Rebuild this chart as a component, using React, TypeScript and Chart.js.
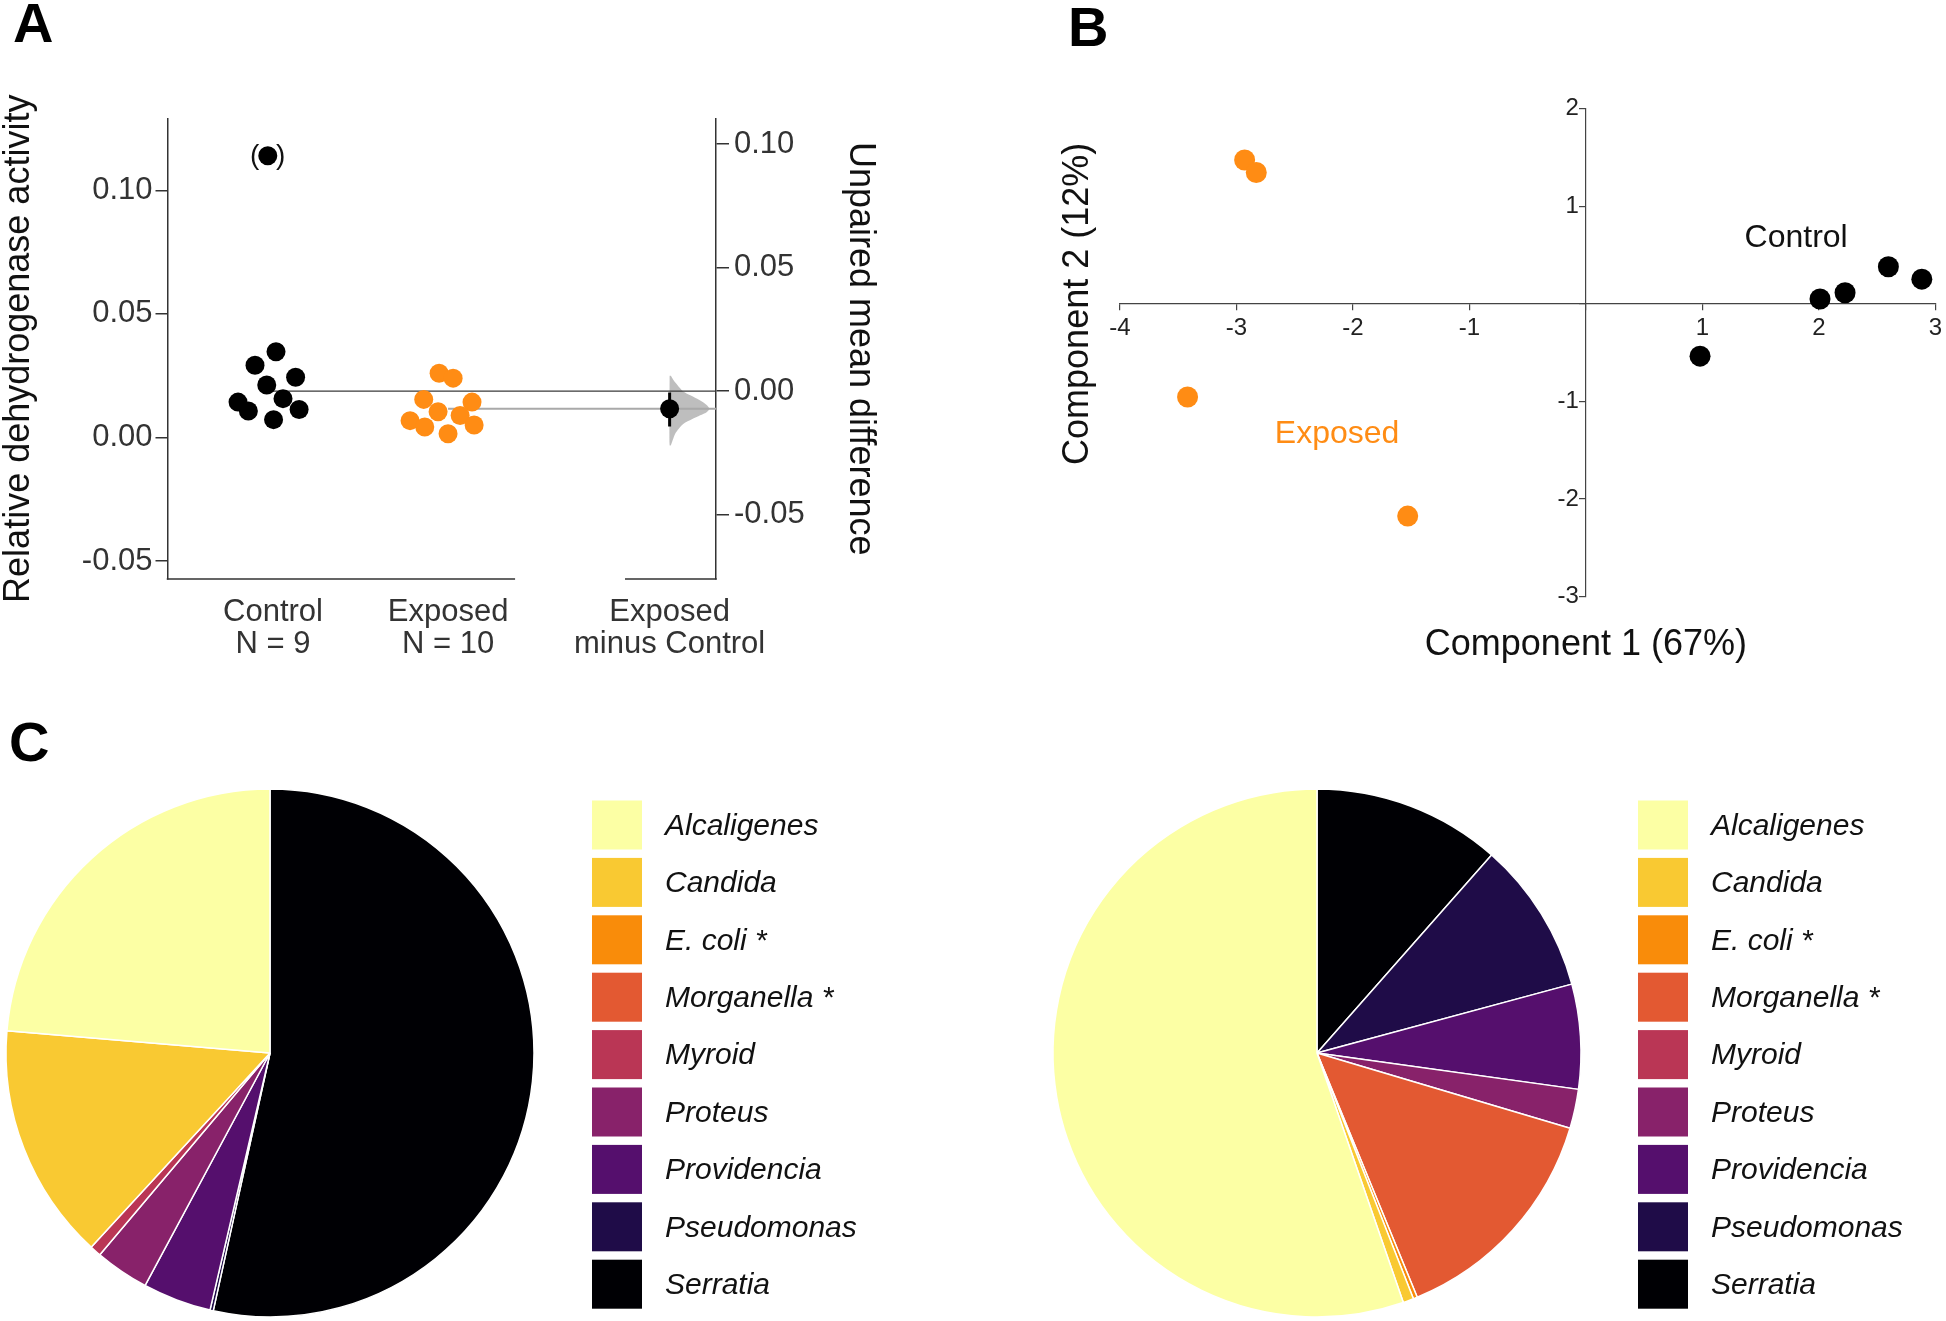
import React, { useEffect, useRef } from 'react';
import { Chart, registerables } from 'chart.js';

Chart.register(...registerables);

const FONT = '"Liberation Sans", Arial, Helvetica, sans-serif';
Chart.defaults.font.family = FONT;

const ORANGE = '#FF8C14';
const TICK = '#333333';
const INK = '#111111';

// ---------------- Panel A : estimation plot ----------------
const controlValues = [0.0347, 0.0292, 0.0244, 0.0212, 0.0157, 0.0143, 0.0113, 0.0107, 0.0072];
const controlJitter = [0.017, -0.103, 0.129, -0.036, 0.057, -0.2, 0.149, -0.141, 0.003];
const controlOutlier = 0.114;
const controlOutlierJitter = -0.03;
const exposedValues = [0.026, 0.024, 0.0154, 0.0143, 0.0104, 0.0089, 0.0068, 0.005, 0.0042, 0.0015];
const exposedJitter = [-0.051, 0.029, -0.139, 0.137, -0.057, 0.069, -0.217, 0.149, -0.133, 0];
const contrastCI = [-0.0143, -0.0006];
const bootValues = [0.0062, 0.0044, 0.0024, 0.0, -0.0017, -0.0037, -0.0057, -0.0071, -0.0084, -0.0098, -0.0114, -0.0132, -0.0152, -0.0172, -0.0199, -0.0219];
const bootDensity = [0.03, 0.1, 0.2, 0.335, 0.52, 0.76, 0.94, 1.0, 0.94, 0.77, 0.56, 0.35, 0.23, 0.14, 0.076, 0.03];
const leftRange = [-0.0573, 0.1291];

// ---------------- Panel B : PCA ----------------
const pcaExposedX = [-2.93, -2.83, -3.42, -1.53];
const pcaExposedY = [1.474, 1.346, -0.955, -2.175];
const pcaControlX = [0.98, 2.01, 2.225, 2.597, 2.884];
const pcaControlY = [-0.536, 0.05, 0.114, 0.38, 0.253];
const pcaXRange = [-4, 3];
const pcaYRange = [-3, 2];

// ---------------- Panel C : composition pies ----------------
const genera = ['Alcaligenes', 'Candida', 'E. coli *', 'Morganella *', 'Myroid', 'Proteus', 'Providencia', 'Pseudomonas', 'Serratia'];
const generaColors = ['#FCFFA4', '#F9C932', '#F98C0A', '#E35932', '#BA3655', '#88226A', '#550F6D', '#1F0C48', '#000004'];
const leftPieShares = [23.65, 14.5, 0, 0, 0.7, 3.3, 4.2, 0.2, 53.45];
const rightPieShares = [55.3, 0.65, 0.25, 14.2, 0, 2.4, 6.4, 9.3, 11.5];

const mean = (a: number[]) => a.reduce((s, v) => s + v, 0) / a.length;
const fmt2 = (v: number) => (Math.abs(v) < 1e-9 ? 0 : v).toFixed(2);

// x layout of the estimation plot (group units)
const xControl = 1;
const xExposed = 2;
const xContrast = 3.266;
const xMin = 0.397;
const xMax = 3.531;
const rawAxisEnd = 2.383;
const contrastAxisStart = 3.011;
const violinHalfWidth = 0.227;

function buildPanelA(canvas: HTMLCanvasElement) {
  const cMean = mean(controlValues);
  const eMean = mean(exposedValues);
  const diff = eMean - cMean;
  const xLabels = [
    ['Control', `N = ${controlValues.length}`],
    ['Exposed', `N = ${exposedValues.length}`],
    ['Exposed', 'minus Control'],
  ];
  const violin = [
    { x: xContrast, y: bootValues[0] },
    ...bootValues.map((v, i) => ({ x: xContrast + bootDensity[i] * violinHalfWidth, y: v })),
    { x: xContrast, y: bootValues[bootValues.length - 1] },
    { x: xContrast, y: bootValues[0] },
  ];

  const annot = {
    id: 'annotA',
    afterDatasetsDraw(chart: any) {
      const { ctx, chartArea } = chart;
      const xs = chart.scales.x;
      const ys = chart.scales.y;
      ctx.save();
      ctx.strokeStyle = '#333';
      ctx.lineWidth = 1.5;
      ctx.beginPath();
      ctx.moveTo(xs.getPixelForValue(xMin) - 0.75, chartArea.bottom);
      ctx.lineTo(xs.getPixelForValue(rawAxisEnd), chartArea.bottom);
      ctx.moveTo(xs.getPixelForValue(contrastAxisStart), chartArea.bottom);
      ctx.lineTo(xs.getPixelForValue(xMax) + 0.75, chartArea.bottom);
      ctx.stroke();
      const px = xs.getPixelForValue(xControl + controlOutlierJitter);
      const py = ys.getPixelForValue(controlOutlier);
      ctx.fillStyle = INK;
      ctx.font = `28px ${FONT}`;
      ctx.textAlign = 'center';
      ctx.textBaseline = 'middle';
      ctx.fillText('(', px - 13, py);
      ctx.fillText(')', px + 13, py);
      ctx.restore();
    },
  };

  return new Chart(canvas, {
    type: 'scatter',
    data: {
      datasets: [
        { type: 'scatter', data: [{ x: xContrast, y: diff }], yAxisID: 'y2', pointRadius: 9.5, backgroundColor: '#000', borderWidth: 0, showLine: false } as any,
        { type: 'line', data: [{ x: xContrast, y: contrastCI[1] }, { x: xContrast, y: contrastCI[0] }], yAxisID: 'y2', borderColor: '#000', borderWidth: 3, pointRadius: 0, showLine: true },
        {
          type: 'scatter',
          data: [
            ...controlValues.map((v, i) => ({ x: xControl + controlJitter[i], y: v })),
            { x: xControl + controlOutlierJitter, y: controlOutlier },
          ],
          yAxisID: 'y', pointRadius: 9.5, backgroundColor: '#000', borderWidth: 0, showLine: false,
        } as any,
        {
          type: 'scatter',
          data: exposedValues.map((v, i) => ({ x: xExposed + exposedJitter[i], y: v })),
          yAxisID: 'y', pointRadius: 9.5, backgroundColor: ORANGE, borderWidth: 0, showLine: false,
        } as any,
        { type: 'line', data: [{ x: xExposed, y: eMean }, { x: xMax, y: eMean }], yAxisID: 'y', borderColor: '#a9a9a9', borderWidth: 2, pointRadius: 0, showLine: true },
        { type: 'line', data: [{ x: xControl, y: cMean }, { x: xMax, y: cMean }], yAxisID: 'y', borderColor: '#3a3a3a', borderWidth: 1.3, pointRadius: 0, showLine: true },
        { type: 'line', data: violin, yAxisID: 'y2', borderColor: 'rgba(0,0,0,0)', borderWidth: 0, backgroundColor: 'rgba(150,150,150,0.62)', fill: 'shape', pointRadius: 0, showLine: true, tension: 0.25 } as any,
      ],
    },
    options: {
      responsive: false,
      animation: false,
      devicePixelRatio: 1,
      events: [],
      layout: { padding: { left: 0, top: 118.5, right: 0, bottom: 0 } },
      plugins: { legend: { display: false }, tooltip: { enabled: false } },
      scales: {
        x: {
          type: 'linear',
          min: xMin,
          max: xMax,
          afterFit: (s: any) => { s.height = 121; },
          afterBuildTicks: (s: any) => { s.ticks = [xControl, xExposed, xContrast].map((v) => ({ value: v })); },
          ticks: {
            callback: (_v: any, i: number) => xLabels[i],
            font: { size: 31, lineHeight: 1.035 },
            color: TICK,
            padding: 17,
            autoSkip: false,
            maxRotation: 0,
            minRotation: 0,
          },
          grid: { display: false, drawTicks: false },
          border: { display: false },
        },
        y: {
          type: 'linear',
          position: 'left',
          min: leftRange[0],
          max: leftRange[1],
          afterFit: (s: any) => { s.width = 167.5; },
          ticks: { stepSize: 0.05, includeBounds: false, callback: (v: any) => fmt2(Number(v)), font: { size: 31 }, color: TICK, padding: 3 },
          grid: { drawOnChartArea: false, tickLength: 12, color: '#333', lineWidth: 1.5 },
          border: { color: '#333', width: 1.5 },
          title: { display: true, text: 'Relative dehydrogenase activity', font: { size: 36, lineHeight: 1 }, padding: { top: 1, bottom: 0 }, color: INK },
        },
        y2: {
          type: 'linear',
          position: 'right',
          min: leftRange[0] - cMean,
          max: leftRange[1] - cMean,
          afterFit: (s: any) => { s.width = 184; },
          ticks: { stepSize: 0.05, includeBounds: false, callback: (v: any) => fmt2(Number(v)), font: { size: 31 }, color: TICK, padding: 5 },
          grid: { drawOnChartArea: false, tickLength: 13, color: '#333', lineWidth: 1.5 },
          border: { color: '#333', width: 1.5 },
          title: { display: true, text: 'Unpaired mean difference', font: { size: 36, lineHeight: 1 }, padding: { top: 22, bottom: 0 }, color: INK },
        },
      },
    } as any,
    plugins: [annot],
  });
}

function buildPanelB(canvas: HTMLCanvasElement) {
  const controlLabelAt = [1.805, 0.673];
  const exposedLabelAt = [-2.136, -1.335];
  const annot = {
    id: 'annotB',
    afterDraw(chart: any) {
      const { ctx, chartArea } = chart;
      const xs = chart.scales.x;
      const ys = chart.scales.y;
      ctx.save();
      // y tick labels, to the left of the centred axis
      ctx.font = `24px ${FONT}`;
      ctx.fillStyle = '#222';
      ctx.textAlign = 'right';
      ctx.textBaseline = 'middle';
      const axisX = xs.getPixelForValue(0);
      ys.ticks.forEach((t: any) => {
        if (t.value !== 0) ctx.fillText(String(t.value), axisX - 7, ys.getPixelForValue(t.value));
      });
      ctx.textAlign = 'center';
      ctx.font = `32px ${FONT}`;
      ctx.fillStyle = INK;
      ctx.fillText('Control', xs.getPixelForValue(controlLabelAt[0]), ys.getPixelForValue(controlLabelAt[1]));
      ctx.fillStyle = ORANGE;
      ctx.fillText('Exposed', xs.getPixelForValue(exposedLabelAt[0]), ys.getPixelForValue(exposedLabelAt[1]));
      ctx.fillStyle = INK;
      ctx.font = `36px ${FONT}`;
      ctx.fillText('Component 1 (67%)', xs.getPixelForValue(0), chartArea.bottom + 48);
      ctx.translate(chartArea.left - 42, ys.getPixelForValue(0));
      ctx.rotate(-Math.PI / 2);
      ctx.fillText('Component 2 (12%)', 0, 0);
      ctx.restore();
    },
  };
  const gridOpts = { drawOnChartArea: false, tickLength: 6, color: '#444', lineWidth: 1.2 };
  const borderOpts = { color: '#444', width: 1.2 };
  return new Chart(canvas, {
    type: 'scatter',
    data: {
      datasets: [
        { data: pcaControlX.map((x, i) => ({ x, y: pcaControlY[i] })), pointRadius: 10.5, backgroundColor: '#000', borderWidth: 0 },
        { data: pcaExposedX.map((x, i) => ({ x, y: pcaExposedY[i] })), pointRadius: 10.5, backgroundColor: ORANGE, borderWidth: 0 },
      ],
    },
    options: {
      responsive: false,
      animation: false,
      devicePixelRatio: 1,
      events: [],
      layout: { padding: { left: 80, right: 10, top: 108.7, bottom: 103.4 } },
      plugins: { legend: { display: false }, tooltip: { enabled: false } },
      scales: {
        x: {
          type: 'linear', min: pcaXRange[0], max: pcaXRange[1], position: { y: 0 },
          ticks: { stepSize: 1, callback: (v: any) => (Number(v) === 0 ? '' : String(v)), font: { size: 24 }, color: '#222', autoSkip: false, maxRotation: 0, padding: 4 },
          grid: gridOpts, border: borderOpts,
        },
        y: {
          type: 'linear', min: pcaYRange[0], max: pcaYRange[1], position: { x: 0 },
          ticks: { stepSize: 1, callback: () => '', font: { size: 24 }, autoSkip: false },
          grid: gridOpts, border: borderOpts,
        },
      },
    } as any,
    plugins: [annot],
  });
}

function buildPie(canvas: HTMLCanvasElement, shares: number[], padding: any, legendOffset: number) {
  const legend = {
    id: 'pieLegend',
    afterDraw(chart: any) {
      const { ctx, chartArea } = chart;
      const cx = (chartArea.left + chartArea.right) / 2;
      const sx = cx + legendOffset;
      ctx.save();
      ctx.textAlign = 'left';
      ctx.textBaseline = 'middle';
      ctx.font = `italic 30px ${FONT}`;
      genera.forEach((g, i) => {
        const y0 = 20.5 + i * 57.4;
        ctx.fillStyle = generaColors[i];
        ctx.fillRect(sx, y0, 50, 49);
        ctx.fillStyle = INK;
        ctx.fillText(g, sx + 73, y0 + 26);
      });
      ctx.restore();
    },
  };
  return new Chart(canvas, {
    type: 'pie',
    data: {
      labels: [...genera].reverse(),
      datasets: [{
        data: [...shares].reverse(),
        backgroundColor: [...generaColors].reverse(),
        borderColor: '#ffffff',
        borderWidth: 1.5,
      }],
    },
    options: {
      responsive: false,
      animation: false,
      devicePixelRatio: 1,
      events: [],
      radius: 264,
      layout: { padding },
      plugins: { legend: { display: false }, tooltip: { enabled: false } },
    } as any,
    plugins: [legend],
  });
}

const letterStyle = (left: number, top: number): React.CSSProperties => ({
  position: 'absolute',
  left,
  top,
  fontFamily: FONT,
  fontWeight: 'bold',
  fontSize: 56,
  lineHeight: '56px',
  color: '#000',
});

export default function App() {
  const aRef = useRef<HTMLCanvasElement>(null);
  const bRef = useRef<HTMLCanvasElement>(null);
  const c1Ref = useRef<HTMLCanvasElement>(null);
  const c2Ref = useRef<HTMLCanvasElement>(null);

  useEffect(() => {
    const charts = [
      buildPanelA(aRef.current!),
      buildPanelB(bRef.current!),
      buildPie(c1Ref.current!, leftPieShares, { left: 6, top: 9, right: 506, bottom: 4 }, 322),
      buildPie(c2Ref.current!, rightPieShares, { left: 13, top: 9, right: 365, bottom: 4 }, 321),
    ];
    return () => charts.forEach((c) => c.destroy());
  }, []);

  return (
    <div style={{ position: 'absolute', left: 0, top: 0, width: 1946, height: 1321, background: '#fff', overflow: 'hidden' }}>
      <canvas ref={aRef} width={900} height={700} style={{ position: 'absolute', left: 0, top: 0 }} />
      <canvas ref={bRef} width={906} height={700} style={{ position: 'absolute', left: 1040, top: 0 }} />
      <canvas ref={c1Ref} width={1040} height={541} style={{ position: 'absolute', left: 0, top: 780 }} />
      <canvas ref={c2Ref} width={906} height={541} style={{ position: 'absolute', left: 1040, top: 780 }} />
      <div style={letterStyle(13, -5)}>A</div>
      <div style={letterStyle(1068, -1)}>B</div>
      <div style={letterStyle(9, 714)}>C</div>
    </div>
  );
}
